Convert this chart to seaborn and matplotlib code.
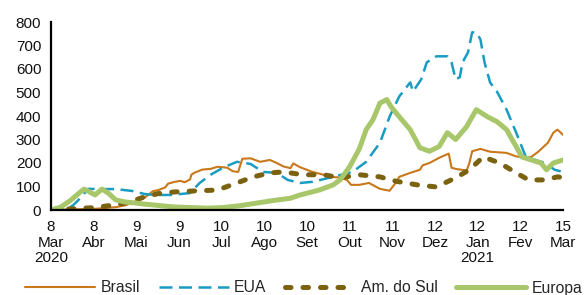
import matplotlib
matplotlib.use("Agg")
import matplotlib.pyplot as plt
import seaborn as sns
import pandas as pd

sns.set_style("white")
plt.rcParams["font.family"] = ["Liberation Sans", "DejaVu Sans"]

# ---------------- data ----------------
brasil_dates = ["2020-03-08", "2020-03-24", "2020-04-09", "2020-04-24", "2020-05-01", "2020-05-08",
                "2020-05-12", "2020-05-15", "2020-05-21", "2020-05-25", "2020-05-30", "2020-06-01",
                "2020-06-06", "2020-06-10", "2020-06-13", "2020-06-17", "2020-06-18", "2020-06-20",
                "2020-06-26", "2020-07-02", "2020-07-07", "2020-07-14", "2020-07-18", "2020-07-22",
                "2020-07-25", "2020-07-31", "2020-08-07", "2020-08-14", "2020-08-19", "2020-08-24",
                "2020-08-29", "2020-08-31", "2020-09-05", "2020-09-14", "2020-09-22", "2020-09-27",
                "2020-10-04", "2020-10-09", "2020-10-12", "2020-10-18", "2020-10-25", "2020-11-02",
                "2020-11-09", "2020-11-14", "2020-11-16", "2020-11-24", "2020-12-01", "2020-12-03",
                "2020-12-08", "2020-12-15", "2020-12-20", "2020-12-22", "2020-12-24", "2020-12-27",
                "2021-01-04", "2021-01-06", "2021-01-08", "2021-01-14", "2021-01-21", "2021-02-02",
                "2021-02-09", "2021-02-16", "2021-02-20", "2021-02-25", "2021-03-04", "2021-03-08",
                "2021-03-11", "2021-03-15"]
brasil_vals = [0, 3, 5, 12, 20, 35, 45, 52, 80, 85, 96, 112, 120, 124, 118, 130, 150, 158,
               172, 175, 184, 180, 165, 162, 218, 220, 205, 213, 200, 185, 178, 198, 182, 162,
               150, 141, 138, 128, 107, 107, 115, 90, 82, 120, 141, 158, 171, 190, 200, 222,
               235, 240, 180, 175, 168, 200, 250, 260, 248, 243, 228, 222, 226, 248, 286, 329,
               342, 320]

eua_dates = ["2020-03-08", "2020-03-19", "2020-03-24", "2020-03-28", "2020-04-04", "2020-04-15",
             "2020-04-24", "2020-05-06", "2020-05-15", "2020-05-23", "2020-06-03", "2020-06-17",
             "2020-06-24", "2020-07-02", "2020-07-11", "2020-07-21", "2020-07-31", "2020-08-09",
             "2020-08-19", "2020-08-27", "2020-09-05", "2020-09-14", "2020-09-29", "2020-10-13",
             "2020-10-23", "2020-11-02", "2020-11-09", "2020-11-16", "2020-11-24", "2020-11-26",
             "2020-12-02", "2020-12-06", "2020-12-13", "2020-12-21", "2020-12-24", "2020-12-27",
             "2020-12-30", "2021-01-01", "2021-01-05", "2021-01-08", "2021-01-11", "2021-01-14",
             "2021-01-17", "2021-01-21", "2021-01-26", "2021-02-02", "2021-02-09", "2021-02-13",
             "2021-02-16", "2021-02-23", "2021-03-02", "2021-03-09", "2021-03-15"]
eua_vals = [0, 2, 20, 43, 90, 89, 89, 81, 68, 64, 64, 72, 115, 150, 180, 205, 196, 162, 158,
            128, 115, 120, 141, 162, 205, 286, 397, 483, 543, 504, 556, 628, 654, 654, 628,
            556, 565, 628, 671, 756, 756, 726, 628, 543, 504, 427, 329, 270, 226, 213, 200,
            171, 162]

amsul_dates = ["2020-03-08", "2020-03-24", "2020-04-01", "2020-04-09", "2020-04-17", "2020-04-24",
               "2020-05-06", "2020-05-15", "2020-05-25", "2020-06-06", "2020-06-20", "2020-07-07",
               "2020-07-21", "2020-08-02", "2020-08-14", "2020-08-24", "2020-09-07", "2020-09-22",
               "2020-10-04", "2020-10-18", "2020-11-02", "2020-11-14", "2020-11-29", "2020-12-13",
               "2020-12-27", "2021-01-06", "2021-01-16", "2021-01-28", "2021-02-09", "2021-02-18",
               "2021-03-02", "2021-03-11", "2021-03-15"]
amsul_vals = [0, 5, 8, 10, 17, 21, 38, 56, 70, 77, 81, 85, 115, 141, 158, 162, 150, 150, 137,
              150, 141, 122, 107, 98, 137, 171, 226, 200, 158, 128, 128, 141, 138]

europa_dates = ["2020-03-08", "2020-03-15", "2020-03-22", "2020-03-28", "2020-04-01", "2020-04-04",
                "2020-04-09", "2020-04-14", "2020-04-19", "2020-04-24", "2020-05-01", "2020-05-08",
                "2020-05-15", "2020-06-05", "2020-06-29", "2020-07-10", "2020-07-23", "2020-08-16",
                "2020-08-29", "2020-09-05", "2020-09-19", "2020-09-29", "2020-10-04", "2020-10-11",
                "2020-10-18", "2020-10-23", "2020-10-28", "2020-11-02", "2020-11-07", "2020-11-10",
                "2020-11-16", "2020-11-24", "2020-12-01", "2020-12-08", "2020-12-15", "2020-12-21",
                "2020-12-27", "2021-01-04", "2021-01-11", "2021-01-19", "2021-01-26", "2021-02-02",
                "2021-02-06", "2021-02-09", "2021-02-13", "2021-02-20", "2021-02-27", "2021-03-03",
                "2021-03-08", "2021-03-15"]
europa_vals = [0, 12, 40, 70, 89, 80, 64, 89, 70, 43, 34, 30, 25, 13, 8, 10, 18, 40, 50, 64,
               85, 107, 128, 184, 260, 342, 385, 455, 470, 440, 397, 342, 265, 250, 270, 329,
               300, 355, 427, 397, 376, 342, 300, 270, 226, 213, 200, 171, 200, 213]

tick_dates = ["2020-03-08", "2020-04-08", "2020-05-09", "2020-06-09", "2020-07-10", "2020-08-10",
              "2020-09-10", "2020-10-11", "2020-11-11", "2020-12-12", "2021-01-12", "2021-02-12",
              "2021-03-15"]
tick_labels = ["8\nMar\n2020", "8\nAbr", "9\nMai", "9\nJun", "10\nJul", "10\nAgo", "10\nSet",
               "11\nOut", "11\nNov", "12\nDez", "12\nJan\n2021", "12\nFev", "15\nMar"]
y_ticks = [0, 100, 200, 300, 400, 500, 600, 700, 800]

series_names = ["Brasil", "EUA", "Am. do Sul", "Europa"]
colors = ["#C8781A", "#1A9CC2", "#7A6210", "#A8C76A"]

# ---------------- figure ----------------
fig = plt.figure(figsize=(5.88, 2.95), dpi=100)
ax = fig.add_axes([51 / 588, 1 - 210 / 295, (563 - 51) / 588, (210 - 22) / 295])

sns.lineplot(x=pd.to_datetime(brasil_dates), y=brasil_vals, ax=ax, color=colors[0],
             linewidth=1.5, label=series_names[0])
sns.lineplot(x=pd.to_datetime(eua_dates), y=eua_vals, ax=ax, color=colors[1],
             linewidth=1.8, linestyle=(0, (5.2, 2.6)), label=series_names[1])
sns.lineplot(x=pd.to_datetime(amsul_dates), y=amsul_vals, ax=ax, color=colors[2],
             linewidth=3.6, linestyle=(0, (1.1, 2.4)), dash_capstyle="round",
             label=series_names[2])
sns.lineplot(x=pd.to_datetime(europa_dates), y=europa_vals, ax=ax, color=colors[3],
             linewidth=3.6, solid_capstyle="round", label=series_names[3])

ax.set_xlim(pd.Timestamp("2020-03-08"), pd.Timestamp("2021-03-15"))
ax.set_ylim(0, 800)
ax.set_yticks(y_ticks)
ax.set_xticks(pd.to_datetime(tick_dates))
ax.set_xticklabels(tick_labels, linespacing=1.12)
ax.set_xlabel("")
ax.set_ylabel("")

for side in ["top", "right"]:
    ax.spines[side].set_visible(False)
for side in ["left", "bottom"]:
    ax.spines[side].set_color("black")
    ax.spines[side].set_linewidth(1.6)
ax.tick_params(axis="both", direction="out", length=4, width=1.4, color="black",
               labelsize=11, labelcolor="#111111")
ax.tick_params(axis="x", pad=3.5)
ax.tick_params(axis="y", pad=3)
ax.patch.set_alpha(0)

handles, labels = ax.get_legend_handles_labels()
ax.get_legend().remove()
fig.legend(handles, labels, ncol=4, loc="center left",
           bbox_to_anchor=(25 / 588, 1 - 288 / 295), frameon=False, fontsize=11.3,
           handlelength=4.45, handletextpad=0.35, columnspacing=1.2, borderpad=0,
           borderaxespad=0)

fig.savefig("out.png", dpi=100)
